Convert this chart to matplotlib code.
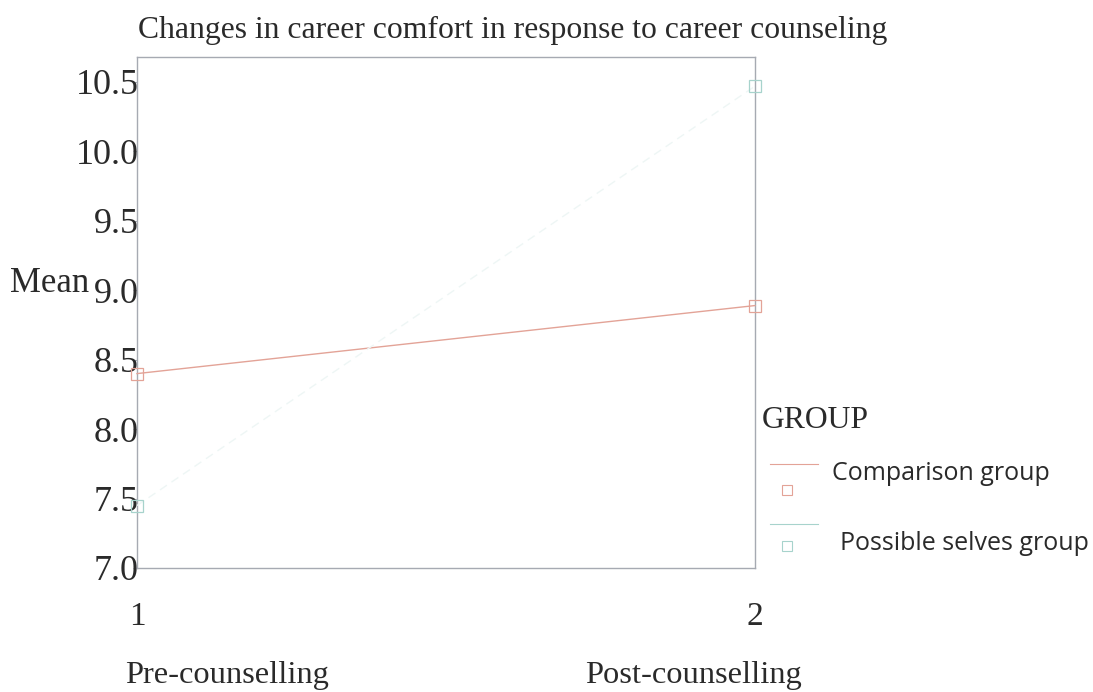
import matplotlib
matplotlib.use("Agg")
import matplotlib.pyplot as plt
from matplotlib.lines import Line2D

# Data
time_points = [1, 2]
time_labels = ["Pre-counselling", "Post-counselling"]
groups = ["Comparison group", "Possible selves group"]
comparison_means = [8.40, 8.89]
possible_selves_means = [7.45, 10.47]
y_ticks = [7.0, 7.5, 8.0, 8.5, 9.0, 9.5, 10.0, 10.5]

W, H = 1093, 692
fig = plt.figure(figsize=(W / 100, H / 100), dpi=100)
fig.patch.set_facecolor("white")

def fx(px):
    return px / W

def fy(py):
    return 1 - py / H

ax = fig.add_axes([fx(137), fy(568), fx(755) - fx(137), fy(57) - fy(568)])
ax.set_xlim(1, 2)
ax.set_ylim(7.0, 10.68)

c_comp = "#e3a397"
c_poss = "#a7d3cc"
spine_c = "#a6aab2"
txt_c = "#2a2a2a"

ax.plot(time_points, comparison_means, color=c_comp, lw=1.0, marker="s",
        markersize=9, markerfacecolor="none", markeredgecolor=c_comp,
        markeredgewidth=0.9, clip_on=False, zorder=3)
ax.plot(time_points, possible_selves_means, color="#eef6f5", lw=1.0,
        linestyle=(0, (6, 4)), marker="s", markersize=9,
        markerfacecolor="none", markeredgecolor=c_poss,
        markeredgewidth=0.9, clip_on=False, zorder=3)

for s in ax.spines.values():
    s.set_color(spine_c)
    s.set_linewidth(1.0)

serif = "Liberation Serif"
ax.set_yticks(y_ticks)
ax.set_yticklabels([f"{v:.1f}" for v in y_ticks], fontfamily=serif,
                   fontsize=26, color=txt_c)
ax.tick_params(axis="y", length=3, color=spine_c, pad=-4)
ax.set_xticks(time_points)
ax.set_xticklabels([str(t) for t in time_points], fontfamily=serif,
                   fontsize=24, color=txt_c)
ax.tick_params(axis="x", length=0, pad=24)

# Title and labels
fig.text(fx(513), fy(30), "Changes in career comfort in response to career counseling",
         ha="center", va="center", fontfamily=serif, fontsize=22.8, color=txt_c)
fig.text(fx(10), fy(283), "Mean", ha="left", va="center", fontfamily=serif,
         fontsize=25, color=txt_c)
fig.text(fx(227), fy(676), time_labels[0], ha="center", va="center",
         fontfamily=serif, fontsize=23.4, color=txt_c)
fig.text(fx(693), fy(676), time_labels[1], ha="center", va="center",
         fontfamily=serif, fontsize=23.4, color=txt_c)

# Legend (manual)
fig.text(fx(762), fy(420), "GROUP", ha="left", va="center", fontfamily=serif,
         fontsize=22.8, color=txt_c)
legend_rows = [(464, 490, 473, 832, c_comp), (524, 546, 543, 840, c_poss)]
for name, (ly, my, ty, tx, col) in zip(groups, legend_rows):
    fig.add_artist(Line2D([fx(770), fx(818)], [fy(ly), fy(ly)], color=col,
                          lw=0.8, transform=fig.transFigure))
    fig.add_artist(Line2D([fx(787)], [fy(my)], marker="s", markersize=7,
                          markerfacecolor="none", markeredgecolor=col,
                          markeredgewidth=0.8, transform=fig.transFigure))
    fig.text(fx(tx), fy(ty), name, ha="left", va="center", fontfamily="Open Sans",
             fontsize=18, color=txt_c)

fig.savefig("out.png", dpi=100, facecolor="white")
